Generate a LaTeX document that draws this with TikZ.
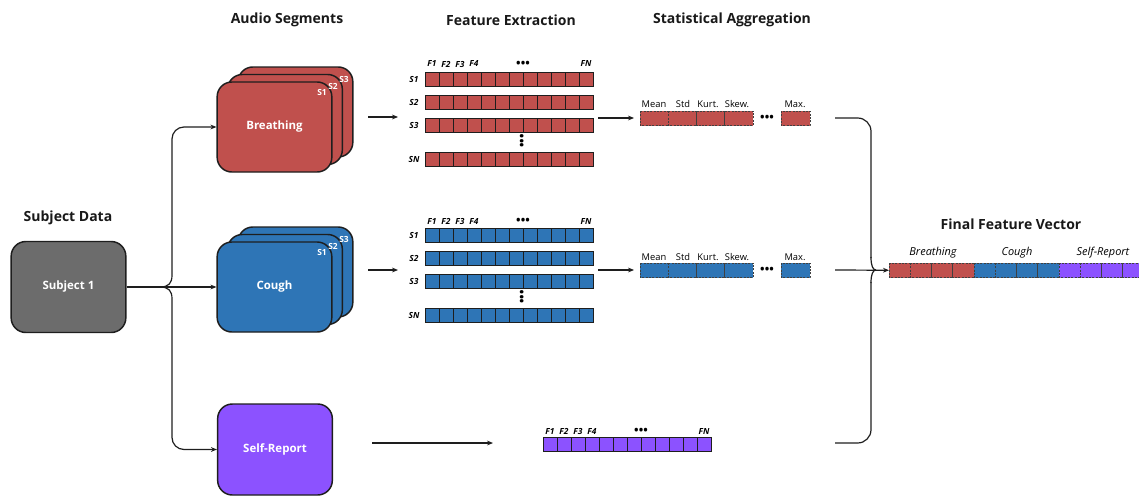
\documentclass[tikz,border=0pt]{standalone}
\usepackage{fontspec}
\setmainfont{Open Sans}
\usetikzlibrary{arrows.meta}
\definecolor{cred}{RGB}{192,80,77}
\definecolor{cblue}{RGB}{46,117,182}
\definecolor{cpurp}{RGB}{140,82,255}
\definecolor{cgray}{RGB}{108,108,108}
\definecolor{edge}{RGB}{30,30,30}
\newcommand\cellrow[7]{%
  \foreach \ci in {1,...,#4} {\draw[#7, fill=#6] ({#2+(\ci-1)*#5},#3) rectangle ({#2+\ci*#5},{#3+14.5});}%
  \coordinate (#1) at (#2,{#3+7.25});}
\begin{document}
\begin{tikzpicture}[x=0.75pt,y=-0.75pt,
  box/.style={draw=edge, line width=1.1pt, rounded corners=11pt, minimum width=86pt, minimum height=67.5pt, text=white, font=\fontsize{8.6}{10}\selectfont\bfseries, inner sep=0},
  title/.style={font=\fontsize{10.5}{12}\selectfont\bfseries, text=black!90},
  conn/.style={draw=edge, line width=0.9pt},
  arr/.style={conn, -{Stealth[length=4.5pt,width=3.6pt]}},
  cell/.style={draw=edge, line width=0.55pt},
  dcell/.style={draw=edge!85, line width=0.5pt, dash pattern=on 1.5pt off 1pt},
  flab/.style={font=\fontsize{6.3}{7}\selectfont\bfseries\itshape, inner sep=0},
  slab/.style={font=\fontsize{6.3}{7}\selectfont\bfseries, text=white, inner sep=0},
  stlab/.style={font=\fontsize{7}{8}\selectfont, inner sep=0},
  vlab/.style={font=\fontsize{8.2}{9}\selectfont\itshape, inner sep=0},
  dots/.style={font=\fontsize{9}{9}\selectfont\bfseries, inner sep=0}]
\useasboundingbox (0,0) rectangle (1139,496);

% titles
\node[title] (t1) at (287,20) {Audio Segments};
\node[title] (t2) at (511,20) {Feature Extraction};
\node[title] (t3) at (732,20) {Statistical Aggregation};
\node[title] (t4) at (68,218) {Subject Data};
\node[title] (t5) at (1011,224) {Final Feature Vector};

% subject
\node[box, fill=cgray, minimum height=68.25pt] (subj) at (68.5,287) {Subject 1};

% breathing stack
\node[box, fill=cred] (br3) at (295.5,112) {};
\node[box, fill=cred] (br2) at (285,119.5) {};
\node[box, fill=cred] (br) at (274.5,127) {Breathing};
\node[slab] (bs1) at (322,92) {S1};
\node[slab] (bs2) at (333,86) {S2};
\node[slab] (bs3) at (344,79) {S3};

% cough stack
\node[box, fill=cblue] (co3) at (295.5,272) {};
\node[box, fill=cblue] (co2) at (285,279.5) {};
\node[box, fill=cblue] (co) at (274.5,287) {Cough};
\node[slab] (cs1) at (322,252) {S1};
\node[slab] (cs2) at (333,246) {S2};
\node[slab] (cs3) at (344,239) {S3};

% self-report
\node[box, fill=cpurp, minimum height=68.25pt] (sr) at (275,449.5) {Self-Report};

% red feature rows
\foreach \lab/\xx in {F1/432,F2/446,F3/460,F4/474,FN/586} {\node[flab] at (\xx,64) {\lab};}
\node[dots] (rd) at (523,64) {•••};
\cellrow{rf1}{425}{72}{12}{14}{cred}{cell}
\cellrow{rf2}{425}{95}{12}{14}{cred}{cell}
\cellrow{rf3}{425}{118}{12}{14}{cred}{cell}
\cellrow{rfn}{425}{152}{12}{14}{cred}{cell}
\foreach \lab/\yy in {S1/79.25,S2/102.25,S3/125.25,SN/159.25} {\node[flab] at (414,\yy) {\lab};}
\node[dots, rotate=90] (rvd) at (523,141) {•••};

% blue feature rows
\foreach \lab/\xx in {F1/432,F2/446,F3/460,F4/474,FN/586} {\node[flab] at (\xx,221) {\lab};}
\node[dots] (bd) at (523,221) {•••};
\cellrow{bf1}{425}{228}{12}{14}{cblue}{cell}
\cellrow{bf2}{425}{251}{12}{14}{cblue}{cell}
\cellrow{bf3}{425}{274}{12}{14}{cblue}{cell}
\cellrow{bfn}{425}{308}{12}{14}{cblue}{cell}
\foreach \lab/\yy in {S1/235.25,S2/258.25,S3/281.25,SN/315.25} {\node[flab] at (414,\yy) {\lab};}
\node[dots, rotate=90] (bvd) at (523,297) {•••};

% purple feature row
\foreach \lab/\xx in {F1/550,F2/564,F3/578,F4/592,FN/704} {\node[flab] at (\xx,431) {\lab};}
\node[dots] (pd) at (641,431) {•••};
\cellrow{pf}{543}{437}{12}{14}{cpurp}{cell}

% statistical aggregation
\foreach \lab/\xx in {Mean/654,Std/683,Kurt./708,Skew./737} {\node[stlab] at (\xx,104) {\lab}; \node[stlab] at (\xx,257) {\lab};}
\node[stlab] (mx1) at (795,104) {Max.};
\node[stlab] (mx2) at (795,257) {Max.};
\cellrow{rs}{640}{111}{4}{28.25}{cred}{dcell}
\cellrow{rsm}{781}{111}{1}{29}{cred}{dcell}
\cellrow{bs}{640}{263}{4}{28.25}{cblue}{dcell}
\cellrow{bsm}{781}{263}{1}{29}{cblue}{dcell}
\node[dots] (rsd) at (767,118.5) {•••};
\node[dots] (bsd) at (767,270.5) {•••};

% final feature vector
\node[vlab] (vb) at (933,253) {Breathing};
\node[vlab] (vc) at (1017,253) {Cough};
\node[vlab] (vs) at (1103,253) {Self-Report};
\cellrow{fv}{889}{263}{4}{21.25}{cred}{dcell}
\cellrow{fvb}{974}{263}{4}{21.25}{cblue}{dcell}
\cellrow{fvp}{1059}{263}{4}{21.25}{cpurp}{dcell}

% left connectors
\coordinate (jL) at (160,287);
\draw[conn] (subj.east) -- (jL);
\draw[arr] (jL) .. controls (169,287) and (172,283) .. (172,275) [rounded corners=9pt] -- (172,127) -- (br.west);
\draw[arr] (jL) -- (co.west);
\draw[arr] (jL) .. controls (169,287) and (172,291) .. (172,299) [rounded corners=9pt] -- (172,449.5) -- (sr.west);

% middle arrows
\coordinate (a1) at (368,117); \coordinate (a1e) at (398,117);
\coordinate (a2) at (368,270); \coordinate (a2e) at (398,270);
\coordinate (a3) at (598,118); \coordinate (a3e) at (634,118);
\coordinate (a4) at (598,270); \coordinate (a4e) at (634,270);
\coordinate (a5) at (372,443); \coordinate (a5e) at (493,443);
\draw[arr] (a1) -- (a1e);
\draw[arr] (a2) -- (a2e);
\draw[arr] (a3) -- (a3e);
\draw[arr] (a4) -- (a4e);
\draw[arr] (a5) -- (a5e);

% right brace
\coordinate (rt) at (835,118);
\coordinate (rm) at (835,270);
\coordinate (rb) at (835,443);
\coordinate (jR) at (876,270);
\draw[conn, rounded corners=10pt] (rt) -- (871,118) -- (871,258);
\draw[conn] (871,257) .. controls (871,266) and (873,270) .. (jR);
\draw[conn, rounded corners=10pt] (rb) -- (871,443) -- (871,282);
\draw[conn] (871,283) .. controls (871,274) and (873,270) .. (jR);
\draw[arr] (rm) -- (fv);
\end{tikzpicture}
\end{document}
